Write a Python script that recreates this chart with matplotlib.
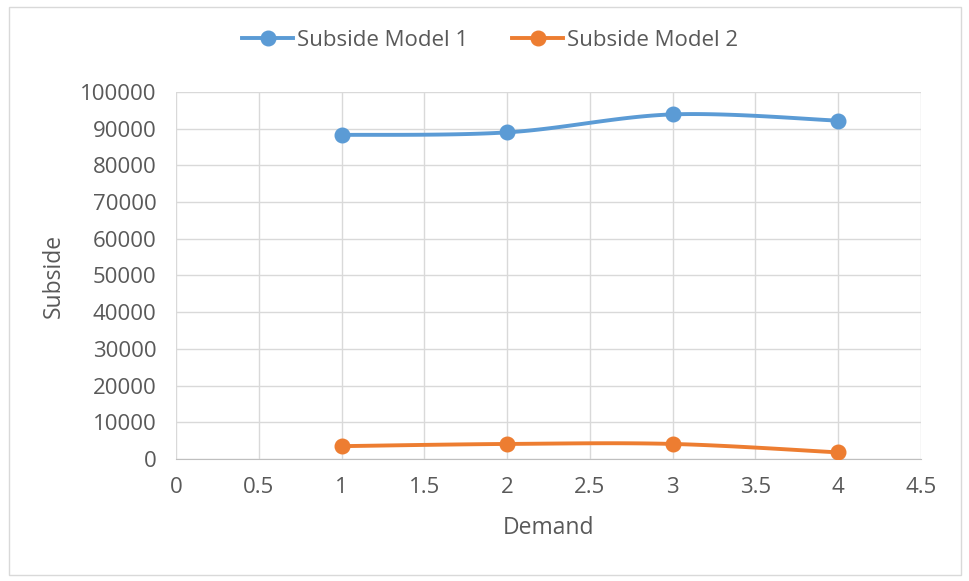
import numpy as np
import matplotlib
matplotlib.use('Agg')
import matplotlib.pyplot as plt
from matplotlib.patches import Rectangle

plt.rcParams['font.family'] = ['Open Sans', 'DejaVu Sans']

demand = [1, 2, 3, 4]
model1 = [88300, 89000, 93900, 92200]
model2 = [3500, 4100, 4100, 1800]
series_names = ['Subside Model 1', 'Subside Model 2']
colors = ['#5B9BD5', '#ED7D31']
xticks = [0, 0.5, 1, 1.5, 2, 2.5, 3, 3.5, 4, 4.5]
yticks = list(range(0, 100001, 10000))


def smooth(x, y, n=40):
    # excel-like smoothed line: bezier segments through each point
    x = np.asarray(x, float)
    y = np.asarray(y, float)
    px = np.concatenate([[x[0]], x, [x[-1]]])
    py = np.concatenate([[y[0]], y, [y[-1]]])
    xs, ys = [], []
    t = np.linspace(0, 1, n)
    for i in range(len(x) - 1):
        p0 = np.array([px[i + 1], py[i + 1]])
        p3 = np.array([px[i + 2], py[i + 2]])
        c1 = p0 + (np.array([px[i + 2], py[i + 2]]) - np.array([px[i], py[i]])) / 6
        c2 = p3 - (np.array([px[i + 3], py[i + 3]]) - np.array([px[i + 1], py[i + 1]])) / 6
        b = ((1 - t) ** 3)[:, None] * p0 + (3 * (1 - t) ** 2 * t)[:, None] * c1 \
            + (3 * (1 - t) * t ** 2)[:, None] * c2 + (t ** 3)[:, None] * p3
        xs.append(b[:, 0])
        ys.append(b[:, 1])
    return np.concatenate(xs), np.concatenate(ys)


fig = plt.figure(figsize=(9.69, 5.81), dpi=100)
ax = fig.add_axes([176 / 969, 1 - 459 / 581, (921 - 176) / 969, (459 - 92) / 581])

for vals, name, c in zip([model1, model2], series_names, colors):
    sx, sy = smooth(demand, vals)
    ax.plot(sx, sy, color=c, lw=2.8, solid_capstyle='round', zorder=3)
    ax.plot(demand, vals, 'o', color=c, ms=10.5, zorder=4)
    ax.plot([], [], '-o', color=c, lw=2.8, ms=10.5, label=name)

ax.set_xlim(0, 4.5)
ax.set_ylim(0, 100000)
ax.set_xticks(xticks)
ax.set_xticklabels([f'{v:g}' for v in xticks])
ax.set_yticks(yticks)
ax.grid(True, color='#D9D9D9', lw=1)
ax.set_axisbelow(True)
for s in ['top', 'right', 'left']:
    ax.spines[s].set_visible(False)
ax.spines['bottom'].set_color('#BFBFBF')
ax.tick_params(length=0, labelsize=16, colors='#595959')
ax.tick_params(axis='x', pad=13)
ax.tick_params(axis='y', pad=14)
ax.set_xlabel('Demand', fontsize=16.5, color='#595959', labelpad=13)
ax.set_ylabel('Subside', fontsize=16.5, color='#595959', labelpad=10)

fig.legend(*ax.get_legend_handles_labels(), loc='center',
           bbox_to_anchor=(490 / 969, 1 - 40 / 581), ncol=2, frameon=False,
           fontsize=16, labelcolor='#595959', handlelength=2.3, columnspacing=2,
           handletextpad=0.15)

fig.patches.append(Rectangle((9 / 969, 1 - 575 / 581), 952 / 969, 568 / 581,
                             transform=fig.transFigure, fill=False,
                             edgecolor='#D9D9D9', lw=1))

fig.savefig('out.png', dpi=100)
